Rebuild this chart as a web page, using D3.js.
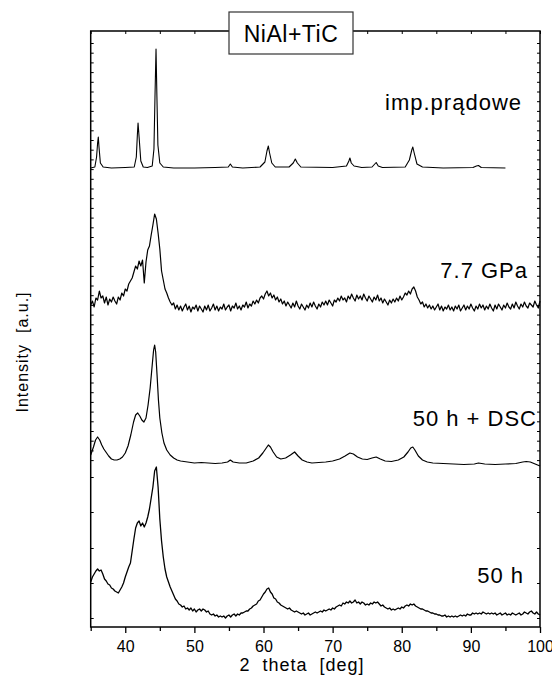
<!DOCTYPE html>
<html>
<head>
<meta charset="utf-8">
<script src="https://cdn.jsdelivr.net/npm/d3@7"></script>
<style>
  body { margin: 0; background: #fff; }
  text { font-family: "Liberation Sans", Arial, sans-serif; fill: #000; }
</style>
</head>
<body>
<div id="chart"></div>
<script>
// x axis: 2 theta [deg]; y: intensity in arbitrary units, curves stacked with offsets
const xTicksMajor = [40, 50, 60, 70, 80, 90, 100];
const xTicksMinor = [35, 45, 55, 65, 75, 85, 95];
const yTicksSparse = [9, 44, 79, 115, 150];

// current-assisted sintering (imp.prądowe)
const impPradowe = [
  [35.0,459],[35.6,460],[35.85,470],[36.0,484],[36.1,490],[36.2,480],[36.4,464],[36.8,460],[38,459],[40,459.5],
  [41.3,460],[41.6,470],[41.75,492],[41.85,504],[42.0,490],[42.25,466],[42.6,460],[43.2,459.5],[43.9,461],
  [44.15,478],[44.3,530],[44.45,578],[44.58,530],[44.72,482],[45.0,464],[45.5,460],[47,459],[50,459],[53,459.5],
  [54.9,460],[55.2,463],[55.5,460],[57,459],[59.5,460],[60.2,465],[60.5,476],[60.7,481],[60.88,474],[61.2,464],
  [61.7,460],[63.7,460],[64.3,464],[64.6,468],[64.9,464],[65.4,460],[70,459.5],[72.0,461],[72.35,466],[72.5,469],
  [72.7,464],[73.1,461],[73.5,460.5],[74.2,459.5],[75.7,460],[76.1,463],[76.3,464.5],[76.6,461],[77.2,459.5],
  [80.5,460],[81.1,467],[81.45,477],[81.6,480],[81.8,474],[82.2,463],[83,460],[86,459],[90.3,459.5],[90.8,461],
  [91.1,461.5],[91.5,459.5],[95,459]
];

// 7.7 GPa
const gpa77 = [
  [35,322],[35.25,326],[35.5,320],[35.75,329],[36,327],[36.25,336],[36.5,329],[36.75,331],
  [37,324],[37.25,330],[37.5,322],[37.75,328],[38,325],[38.25,330],[38.5,326],[38.75,323],
  [39,330],[39.25,327],[39.5,334],[39.75,331],[40,338],[40.25,336],[40.5,343],[40.75,346],
  [41,349],[41.25,355],[41.5,361],[41.75,358],[42,366],[42.25,361],[42.5,367],[42.75,344],
  [43,365],[43.25,377],[43.5,381],[43.75,392],[44,402],[44.25,413],[44.5,408],[44.75,394],
  [45,378],[45.25,356],[45.5,347],[45.75,338],[46,334],[46.25,329],[46.5,325],[46.75,322],
  [47,324],[47.25,318],[47.5,322],[47.75,317],[48,321],[48.25,316],[48.5,320],[48.75,323],
  [49,317],[49.25,321],[49.5,315],[49.75,320],[50,318],[50.25,322],[50.5,316],[50.75,321],
  [51,318],[51.25,315],[51.5,321],[51.75,317],[52,322],[52.25,316],[52.5,319],[52.75,323],
  [53,317],[53.25,321],[53.5,316],[53.75,320],[54,318],[54.25,323],[54.5,317],[54.75,320],
  [55,322],[55.25,316],[55.5,321],[55.75,319],[56,324],[56.25,318],[56.5,321],[56.75,317],
  [57,322],[57.25,320],[57.5,325],[57.75,319],[58,323],[58.25,321],[58.5,326],[58.75,323],
  [59,327],[59.25,324],[59.5,329],[59.75,331],[60,328],[60.25,333],[60.5,336],[60.75,331],
  [61,334],[61.25,329],[61.5,332],[61.75,327],[62,330],[62.25,325],[62.5,328],[62.75,323],
  [63,326],[63.25,321],[63.5,325],[63.75,322],[64,319],[64.25,324],[64.5,320],[64.75,326],
  [65,321],[65.25,318],[65.5,323],[65.75,320],[66,317],[66.25,322],[66.5,319],[66.75,324],
  [67,320],[67.25,325],[67.5,321],[67.75,318],[68,323],[68.25,320],[68.5,325],[68.75,322],
  [69,326],[69.25,322],[69.5,327],[69.75,324],[70,321],[70.25,327],[70.5,325],[70.75,329],
  [71,326],[71.25,331],[71.5,327],[71.75,329],[72,325],[72.25,331],[72.5,328],[72.75,333],
  [73,329],[73.25,326],[73.5,332],[73.75,328],[74,331],[74.25,327],[74.5,333],[74.75,329],
  [75,326],[75.25,331],[75.5,328],[75.75,325],[76,330],[76.25,327],[76.5,332],[76.75,326],
  [77,329],[77.25,324],[77.5,328],[77.75,325],[78,322],[78.25,327],[78.5,324],[78.75,328],
  [79,325],[79.25,329],[79.5,326],[79.75,331],[80,327],[80.25,330],[80.5,334],[80.75,332],
  [81,336],[81.25,333],[81.5,338],[81.75,340],[82,336],[82.25,330],[82.5,327],[82.75,323],
  [83,325],[83.25,320],[83.5,323],[83.75,319],[84,322],[84.25,318],[84.5,321],[84.75,317],
  [85,320],[85.25,323],[85.5,317],[85.75,321],[86,316],[86.25,320],[86.5,318],[86.75,322],
  [87,317],[87.25,320],[87.5,316],[87.75,321],[88,318],[88.25,322],[88.5,316],[88.75,319],
  [89,322],[89.25,317],[89.5,321],[89.75,318],[90,323],[90.25,319],[90.5,316],[90.75,321],
  [91,318],[91.25,323],[91.5,319],[91.75,322],[92,317],[92.25,321],[92.5,318],[92.75,323],
  [93,319],[93.25,316],[93.5,322],[93.75,318],[94,323],[94.25,320],[94.5,317],[94.75,322],
  [95,319],[95.25,324],[95.5,320],[95.75,318],[96,323],[96.25,319],[96.5,325],[96.75,321],
  [97,318],[97.25,323],[97.5,320],[97.75,325],[98,321],[98.25,319],[98.5,324],[98.75,322],
  [99,320],[99.25,326],[99.5,322],[99.75,319],[100,326]
];

// 50 h + DSC
const h50dsc = [
  [35.0,172],[35.4,180],[35.7,187],[36.0,190],[36.3,187],[36.6,182],[36.9,178],[37.2,175],[37.6,171],[38.0,168],
  [38.4,167],[38.8,167],[39.2,168],[39.6,170],[40.0,174],[40.4,181],[40.8,192],[41.2,205],[41.5,212],[41.8,214],
  [42.1,211],[42.4,207],[42.7,205],[43.0,209],[43.3,222],[43.6,239],[43.9,262],[44.1,277],[44.25,282],[44.4,275],
  [44.6,252],[44.8,227],[45.0,209],[45.3,194],[45.6,184],[46.0,177],[46.5,172],[47.0,169],[47.5,167],[48.0,166],
  [49,165],[50,164],[51,164.5],[52,164],[53,163.5],[54,164],[54.8,165],[55.2,167],[55.6,165],[56.5,164],
  [57.5,164],[58.5,166],[59.3,169],[59.9,174],[60.4,179],[60.7,182],[61.0,180],[61.4,175],[61.9,170],[62.5,168],
  [63.2,169],[63.9,172],[64.5,175],[65.0,171],[65.6,167],[66.3,165],[67.0,164],[68.0,164.5],[69.0,165],[70.0,166],
  [71.0,168],[71.8,171],[72.5,174],[73.0,173],[73.6,170],[74.3,168],[75.0,167.5],[75.7,169],[76.3,170],[76.9,168],
  [77.6,166],[78.5,165.5],[79.5,167],[80.3,170],[80.9,175],[81.3,179],[81.6,180],[81.9,177],[82.4,171],[83.0,167],
  [83.7,165],[84.5,164],[86,163.5],[87.5,163],[89,162.5],[90.5,163],[91.1,164],[92,163],[93.5,162.5],[95,163],
  [96.5,163.5],[97.5,165],[98.0,165.5],[98.6,165],[99.3,163],[100,161]
];

// 50 h
const h50 = [
  [35,45],[35.25,50],[35.5,53],[35.75,56],[36,58],[36.25,56],[36.5,57],[36.75,53],
  [37,48],[37.25,46],[37.5,43],[37.75,42],[38,39],[38.25,38],[38.5,36],[38.75,35],
  [39,34],[39.25,37],[39.5,40],[39.75,44],[40,50],[40.25,55],[40.5,60],[40.75,64],
  [41,76],[41.25,88],[41.5,99],[41.75,104],[42,106],[42.25,101],[42.5,104],[42.75,100],
  [43,104],[43.25,110],[43.5,118],[43.75,129],[44,140],[44.25,156],[44.5,160],[44.75,140],
  [45,108],[45.25,86],[45.5,70],[45.75,58],[46,50],[46.25,45],[46.5,40],[46.75,36],
  [47,32],[47.25,28],[47.5,26],[47.75,23],[48,22],[48.25,20],[48.5,21],[48.75,18],
  [49,19],[49.25,17],[49.5,19],[49.75,16],[50,18],[50.25,15],[50.5,17],[50.75,18],
  [51,16],[51.25,18],[51.5,17],[51.75,15],[52,16],[52.25,13],[52.5,12],[52.75,13],
  [53,11],[53.25,12],[53.5,10],[53.75,11],[54,10],[54.25,11],[54.5,9],[54.75,11],
  [55,12],[55.25,10],[55.5,12],[55.75,13],[56,11],[56.25,13],[56.5,12],[56.75,14],
  [57,14],[57.25,15],[57.5,16],[57.75,16],[58,18],[58.25,19],[58.5,21],[58.75,22],
  [59,23],[59.25,26],[59.5,27],[59.75,30],[60,33],[60.25,35],[60.5,38],[60.75,39],
  [61,35],[61.25,33],[61.5,29],[61.75,28],[62,25],[62.25,24],[62.5,22],[62.75,21],
  [63,20],[63.25,19],[63.5,18],[63.75,19],[64,17],[64.25,16],[64.5,15],[64.75,16],
  [65,15],[65.25,14],[65.5,13],[65.75,14],[66,12],[66.25,13],[66.5,14],[66.75,12],
  [67,13],[67.25,14],[67.5,15],[67.75,14],[68,15],[68.25,16],[68.5,15],[68.75,17],
  [69,16],[69.25,17],[69.5,18],[69.75,17],[70,19],[70.25,18],[70.5,20],[70.75,21],
  [71,22],[71.25,21],[71.5,24],[71.75,23],[72,25],[72.25,24],[72.5,26],[72.75,24],
  [73,25],[73.25,27],[73.5,24],[73.75,25],[74,23],[74.25,25],[74.5,24],[74.75,22],
  [75,23],[75.25,22],[75.5,24],[75.75,23],[76,25],[76.25,24],[76.5,25],[76.75,23],
  [77,21],[77.25,22],[77.5,20],[77.75,19],[78,18],[78.25,19],[78.5,17],[78.75,18],
  [79,17],[79.25,18],[79.5,19],[79.75,18],[80,20],[80.25,19],[80.5,21],[80.75,22],
  [81,21],[81.25,23],[81.5,22],[81.75,23],[82,21],[82.25,20],[82.5,19],[82.75,18],
  [83,18],[83.25,17],[83.5,16],[83.75,16],[84,15],[84.25,14],[84.5,14],[84.75,13],
  [85,13],[85.25,12],[85.5,12],[85.75,11],[86,11],[86.25,12],[86.5,10],[86.75,11],
  [87,10],[87.25,11],[87.5,10],[87.75,11],[88,10],[88.25,11],[88.5,12],[88.75,11],
  [89,12],[89.25,11],[89.5,13],[89.75,12],[90,12],[90.25,14],[90.5,13],[90.75,14],
  [91,13],[91.25,14],[91.5,13],[91.75,15],[92,14],[92.25,13],[92.5,14],[92.75,13],
  [93,14],[93.25,13],[93.5,14],[93.75,12],[94,13],[94.25,14],[94.5,12],[94.75,13],
  [95,14],[95.25,12],[95.5,13],[95.75,12],[96,14],[96.25,13],[96.5,12],[96.75,13],
  [97,14],[97.25,12],[97.5,13],[97.75,15],[98,14],[98.25,13],[98.5,15],[98.75,16],
  [99,14],[99.25,13],[99.5,15],[99.75,13],[100,12]
];

const curves = [
  { name: "imp.prądowe", data: impPradowe, sw: 1.1, lx: 522, ly: 110 },
  { name: "7.7 GPa", data: gpa77, sw: 1.2, lx: 528, ly: 278 },
  { name: "50 h + DSC", data: h50dsc, sw: 1.2, lx: 537, ly: 426 },
  { name: "50 h", data: h50, sw: 1.3, lx: 524, ly: 583 }
];

const width = 552, height = 675;
const margin = { top: 31, right: 12, bottom: 48, left: 90.7 };
const plotW = width - margin.left - margin.right;
const plotH = height - margin.top - margin.bottom;

const svg = d3.select("#chart").append("svg")
    .attr("width", width)
    .attr("height", height);

const x = d3.scaleLinear().domain([35, 100]).range([margin.left, margin.left + plotW]);
const y = d3.scaleLinear().domain([0, 596]).range([margin.top + plotH, margin.top]);

const yTicksDense = d3.range(584, 160, -9.7);

// curves
const line = d3.line()
    .x(function (d) { return x(d[0]); })
    .y(function (d) { return y(d[1]); });

svg.selectAll("path.curve")
    .data(curves)
    .enter()
    .append("path")
    .attr("class", "curve")
    .attr("d", function (d) { return line(d.data); })
    .attr("fill", "none")
    .attr("stroke", "#000")
    .attr("stroke-width", function (d) { return d.sw; })
    .attr("stroke-linejoin", "round");

svg.selectAll("text.label")
    .data(curves)
    .enter()
    .append("text")
    .attr("class", "label")
    .attr("x", function (d) { return d.lx; })
    .attr("y", function (d) { return d.ly; })
    .attr("text-anchor", "end")
    .style("font-size", "22px")
    .style("letter-spacing", "1px")
    .text(function (d) { return d.name; });

// bottom axis, ticks outward
const axisBottomG = svg.append("g").attr("transform", "translate(0," + (margin.top + plotH) + ")");
axisBottomG.call(d3.axisBottom(x).tickValues(xTicksMajor).tickSize(6).tickPadding(8).tickFormat(d3.format("d")));
axisBottomG.append("g").call(d3.axisBottom(x).tickValues(xTicksMinor).tickSize(4).tickFormat(""));
axisBottomG.selectAll(".domain").remove();
axisBottomG.selectAll("line").attr("stroke", "#000").attr("stroke-width", 1.3);
axisBottomG.selectAll("text")
    .style("font-size", "16px")
    .style("font-family", "'Liberation Sans', Arial, sans-serif")
    .attr("fill", "#000");

// top axis, ticks inward
const axisTopG = svg.append("g").attr("transform", "translate(0," + margin.top + ")");
axisTopG.call(d3.axisBottom(x).tickValues(xTicksMajor.concat(xTicksMinor)).tickSize(3).tickFormat(""));
axisTopG.selectAll(".domain").remove();
axisTopG.selectAll("line").attr("stroke", "#000").attr("stroke-width", 1);

// left and right axes, small ticks inward
const yTicks = yTicksDense.concat(yTicksSparse);
const axisLeftG = svg.append("g").attr("transform", "translate(" + margin.left + ",0)");
axisLeftG.call(d3.axisRight(y).tickValues(yTicks).tickSize(3).tickFormat(""));
const axisRightG = svg.append("g").attr("transform", "translate(" + (margin.left + plotW) + ",0)");
axisRightG.call(d3.axisLeft(y).tickValues(yTicks).tickSize(3).tickFormat(""));
[axisLeftG, axisRightG].forEach(function (g) {
    g.selectAll(".domain").remove();
    g.selectAll("line").attr("stroke", "#000").attr("stroke-width", 1);
});

// frame
svg.append("rect")
    .attr("x", margin.left)
    .attr("y", margin.top)
    .attr("width", plotW)
    .attr("height", plotH)
    .attr("fill", "none")
    .attr("stroke", "#000")
    .attr("stroke-width", 1.5);

// title box
svg.append("rect")
    .attr("x", 229)
    .attr("y", 12)
    .attr("width", 124)
    .attr("height", 42)
    .attr("fill", "#fff")
    .attr("stroke", "#333")
    .attr("stroke-width", 1.2);
svg.append("text")
    .attr("x", 291)
    .attr("y", 42)
    .attr("text-anchor", "middle")
    .style("font-size", "23px")
    .style("letter-spacing", "0.5px")
    .text("NiAl+TiC");

// axis titles
svg.append("text")
    .attr("x", 302)
    .attr("y", 671)
    .attr("text-anchor", "middle")
    .style("font-size", "18px")
    .style("letter-spacing", "1px")
    .style("white-space", "pre")
    .text("2  theta  [deg]");

svg.append("text")
    .attr("transform", "translate(28,352) rotate(-90)")
    .attr("text-anchor", "middle")
    .style("font-size", "16px")
    .style("letter-spacing", "1px")
    .style("white-space", "pre")
    .text("Intensity  [a.u.]");
</script>
</body>
</html>
